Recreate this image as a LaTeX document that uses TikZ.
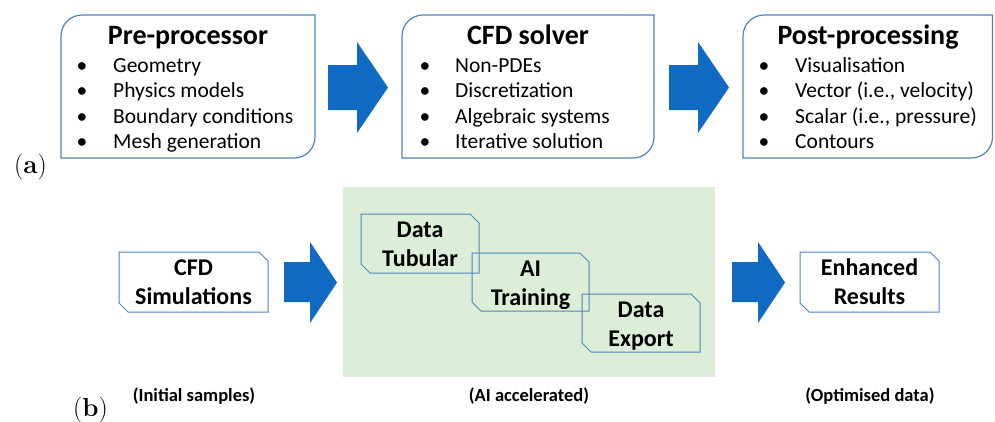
\documentclass[tikz,border=0pt]{standalone}
\usepackage{fontspec}
\newfontfamily\calfont{Carlito}
\definecolor{boxblue}{HTML}{5082BE}
\definecolor{arrowblue}{HTML}{106AC4}
\definecolor{panelgreen}{HTML}{DDEED8}
\newcommand\rdbox[4]{\draw[topbox] (#1,#2+21) .. controls (#1,#2+9.4) and (#1+9.4,#2) .. (#1+21,#2) -- (#3,#2) -- (#3,#4-21) .. controls (#3,#4-9.4) and (#3-9.4,#4) .. (#3-21,#4) -- (#1,#4) -- cycle;}
\newcommand\snipbx[4]{\draw[snipline] (#1,#2) -- (#3-9,#2) -- (#3,#2+9) -- (#3,#4) -- (#1+9,#4) -- (#1,#4-9) -- cycle;}
\newcommand\blockarr[7]{\fill[arrowblue] (#1,#4) -- (#2,#4) -- (#2,#6) -- (#3,{(#6+#7)/2}) -- (#2,#7) -- (#2,#5) -- (#1,#5) -- cycle;}
\begin{document}
\begin{tikzpicture}[x=1pt,y=-1pt,
  topbox/.style={draw=boxblue, line width=1.2pt},
  snipline/.style={draw=boxblue, line width=1pt},
  ttl/.style={font=\calfont\bfseries\fontsize{28}{32}\selectfont, anchor=base, inner sep=0pt},
  itm/.style={font=\calfont\fontsize{21.5}{25}\selectfont, anchor=base west, inner sep=0pt},
  bul/.style={font=\calfont\fontsize{21.5}{25}\selectfont, anchor=base, inner sep=0pt},
  btxt/.style={font=\calfont\bfseries\fontsize{24}{29}\selectfont, anchor=base, inner sep=0pt},
  capt/.style={font=\calfont\bfseries\fontsize{18.5}{22}\selectfont, anchor=base, inner sep=0pt},
  lab/.style={font=\fontsize{26}{30}\selectfont, anchor=base west, inner sep=0pt}]
\useasboundingbox (0,0) rectangle (995,421);

% ---------- (a) ----------
\rdbox{61}{15}{315}{158}
\rdbox{402}{15}{654}{158}
\rdbox{743}{15}{992.5}{158}

\node[ttl] (t1) at (188,44) {Pre-processor};
\node[ttl] (t2) at (528,44) {CFD solver};
\node[ttl] (t3) at (868,44) {Post-processing};

\foreach \txt [count=\i] in {Geometry, Physics models, Boundary conditions, Mesh generation} {
  \node[bul] (ab\i) at (82,{46.5+25.5*\i}) {\textbullet};
  \node[itm] (ai\i) at (113,{46.5+25.5*\i}) {\txt};
}
\foreach \txt [count=\i] in {Non-PDEs, Discretization, Algebraic systems, Iterative solution} {
  \node[bul] (bb\i) at (425,{46.5+25.5*\i}) {\textbullet};
  \node[itm] (bi\i) at (455,{46.5+25.5*\i}) {\txt};
}
\foreach \txt [count=\i] in {Visualisation, {Vector (i.e., velocity)}, {Scalar (i.e., pressure)}, Contours} {
  \node[bul] (cb\i) at (764,{46.5+25.5*\i}) {\textbullet};
  \node[itm] (ci\i) at (795,{46.5+25.5*\i}) {\txt};
}

\blockarr{328}{357}{388}{65}{110}{42}{133}
\blockarr{669}{698}{729}{65}{110}{42}{133}

\node[lab] (la) at (14,173) {(\textbf{a})};

% ---------- (b) ----------
\fill[panelgreen] (343,187) rectangle (715,377);

\snipbx{119}{252}{268}{312}
\snipbx{361}{214}{479}{273}
\snipbx{472}{253}{589}{311}
\snipbx{582}{294}{700}{352}
\snipbx{800}{252}{939}{312}

\node[btxt] (s1) at (193.5,275) {CFD};
\node[btxt] (s2) at (193.5,304) {Simulations};
\node[btxt] (d1) at (420,237) {Data};
\node[btxt] (d2) at (420,266) {Tubular};
\node[btxt] (a1) at (530.5,276) {AI};
\node[btxt] (a2) at (530.5,305) {Training};
\node[btxt] (e1) at (641,317) {Data};
\node[btxt] (e2) at (641,346) {Export};
\node[btxt] (r1) at (869.5,275) {Enhanced};
\node[btxt] (r2) at (869.5,304) {Results};

\blockarr{284}{310}{337}{262}{302}{242}{323}
\blockarr{732}{758}{785}{262}{302}{242}{323}

\node[capt] (c1) at (194,401) {(Initial samples)};
\node[capt] (c2) at (529,401) {(AI accelerated)};
\node[capt] (c3) at (870,401) {(Optimised data)};

\node[lab] (lb) at (73,416) {(\textbf{b})};
\end{tikzpicture}
\end{document}
